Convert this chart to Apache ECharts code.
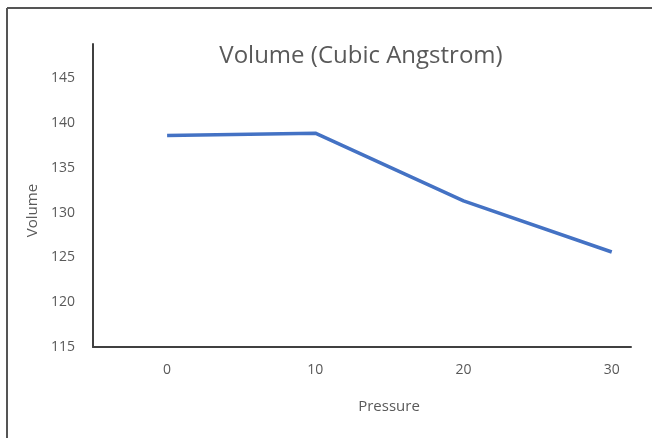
<!DOCTYPE html>
<html>
<head>
<meta charset="utf-8">
<script src="https://cdn.jsdelivr.net/npm/echarts@6/dist/echarts.min.js"></script>
<style>
  html, body { margin: 0; padding: 0; background: #fff; }
  #chart { width: 652px; height: 438px; }
</style>
</head>
<body>
<div id="chart"></div>
<script>
  // data
  const pressure = [0, 10, 20, 30]
  const volume = [138.6, 138.85, 131.3, 125.6]
  const yTicks = [115, 120, 125, 130, 135, 140, 145]

  const textColor = '#595959'
  const font = 'Open Sans'

  const chart = echarts.init(document.getElementById('chart'))
  chart.setOption({
    animation: false,
    backgroundColor: '#fff',
    title: {
      text: 'Volume (Cubic Angstrom)',
      left: 356,
      top: 39,
      textAlign: 'center',
      textStyle: { fontFamily: font, fontSize: 24, fontWeight: 'normal', color: textColor },
    },
    grid: { left: 93, top: 44, right: 21, bottom: 91, containLabel: false },
    xAxis: {
      type: 'value',
      min: -5,
      max: 31.3,
      name: 'Pressure',
      nameLocation: 'middle',
      nameGap: 52,
      nameTextStyle: { fontFamily: font, fontSize: 15, color: textColor, padding: [0, 0, 0, 54] },
      axisLine: { show: true, onZero: false, lineStyle: { color: '#404040', width: 2 } },
      axisTick: { show: false },
      splitLine: { show: false },
      axisLabel: {
        customValues: pressure,
        margin: 16,
        fontFamily: font,
        fontSize: 14,
        color: textColor,
      },
    },
    yAxis: {
      type: 'value',
      min: 115,
      max: 148.8,
      name: 'Volume',
      nameLocation: 'middle',
      nameGap: 53,
      nameTextStyle: { fontFamily: font, fontSize: 15, color: textColor, padding: [0, 30, 0, 0] },
      axisLine: { show: true, onZero: false, lineStyle: { color: '#404040', width: 2 } },
      axisTick: { show: false },
      splitLine: { show: false },
      axisLabel: {
        customValues: yTicks,
        margin: 18,
        fontFamily: font,
        fontSize: 14,
        color: textColor,
      },
    },
    series: [
      {
        type: 'line',
        data: pressure.map((p, i) => [p, volume[i]]),
        symbol: 'none',
        lineStyle: { color: '#4472C4', width: 3.5 },
      },
    ],
    graphic: [
      // outer frame (only left and top visible in the picture)
      { type: 'line', shape: { x1: 7, y1: 8, x2: 652, y2: 8 }, style: { stroke: '#555', lineWidth: 2 } },
      { type: 'line', shape: { x1: 7, y1: 8, x2: 7, y2: 438 }, style: { stroke: '#555', lineWidth: 2 } },
    ],
  })
</script>
</body>
</html>
